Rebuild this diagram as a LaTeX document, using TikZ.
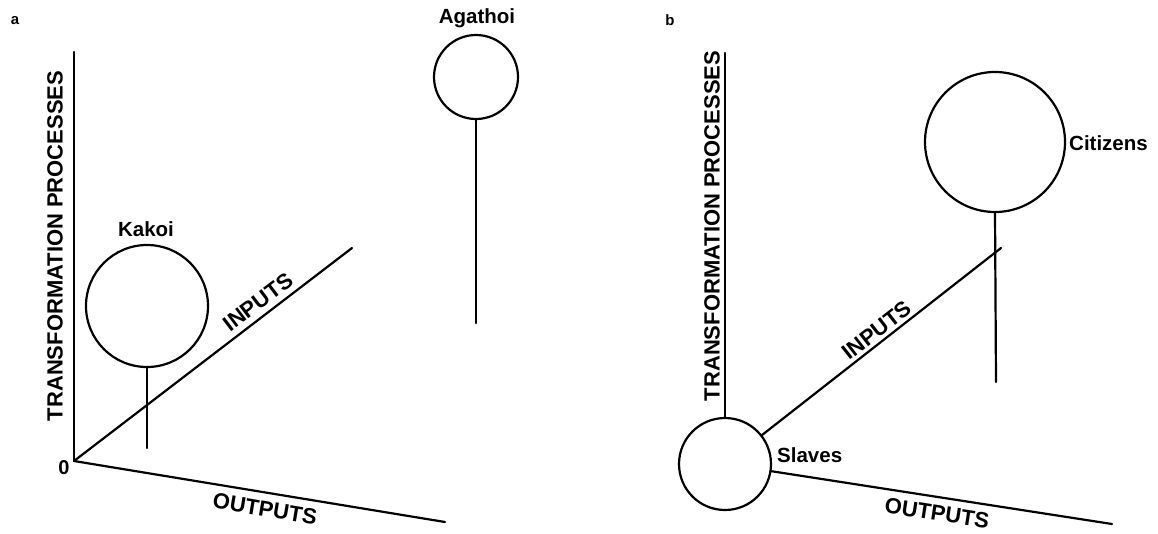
\documentclass[tikz,border=0pt]{standalone}
\usepackage{fontspec}
\setmainfont{Liberation Sans}
\begin{document}
\begin{tikzpicture}[x=1pt,y=-1pt,
  axis/.style={line width=2.2pt, line cap=round},
  blob/.style={draw, circle, line width=2.2pt, inner sep=0pt},
  lbl/.style={font=\bfseries\fontsize{20.5}{24}\selectfont, inner sep=0pt},
  axlbl/.style={font=\bfseries\fontsize{22}{26}\selectfont, inner sep=0pt},
  panel/.style={font=\bfseries\fontsize{15}{18}\selectfont, inner sep=0pt}]
\useasboundingbox (0,0) rectangle (1158,533);

% panel labels
\node[panel] (pa) at (15,21) {a};
\node[panel] (pb) at (670,20) {b};

% ---------- panel a ----------
\coordinate (oa) at (74,461);
\coordinate (atop) at (74,52);
\coordinate (ain) at (352,248);
\coordinate (aout) at (445,522);
\draw[axis] (oa) -- (atop);
\draw[axis] (oa) -- (ain);
\draw[axis] (oa) -- (aout);
\node[axlbl, font=\bfseries\fontsize{20}{24}\selectfont] (azero) at (64,468) {0};
\node[axlbl, rotate=90] (atp) at (55,246) {TRANSFORMATION PROCESSES};
\node[axlbl, rotate=37.2] (ainl) at (258,302) {INPUTS};
\node[axlbl, rotate=-9.5] (aoutl) at (265,509) {OUTPUTS};

\node[blob, minimum size=122pt] (kakoi) at (147,306) {};
\node[lbl] (kakoil) at (146,229) {Kakoi};
\coordinate (kstem) at (147,448);
\draw[axis] (kakoi.south) -- (kstem);

\node[blob, minimum size=84pt] (agathoi) at (476,77) {};
\node[lbl] (agathoil) at (477,18) {Agathoi};
\coordinate (astem) at (476,323);
\draw[axis] (agathoi.south) -- (astem);

% ---------- panel b ----------
\node[blob, minimum size=92pt] (slaves) at (725,464) {};
\coordinate (btop) at (725,53);
\coordinate (bjoin) at (1001,248);
\coordinate (bout) at (1112,524);
\draw[axis] (slaves) -- (btop);
\draw[axis] (slaves) -- (bjoin);
\draw[axis] (slaves) -- (bout);
\node[lbl, anchor=west] (slavesl) at (777,455) {Slaves};
\node[axlbl, rotate=90] (btp) at (712,226) {TRANSFORMATION PROCESSES};
\node[axlbl, rotate=38] (binl) at (877,330) {INPUTS};
\node[axlbl, rotate=-8.8] (boutl) at (937,513) {OUTPUTS};

\node[blob, minimum size=140pt] (citizens) at (995,142) {};
\node[lbl, anchor=west] (citizensl) at (1069,143) {Citizens};
\coordinate (cstem) at (996,382);
\draw[axis] (citizens.south) -- (cstem);
\end{tikzpicture}
\end{document}
